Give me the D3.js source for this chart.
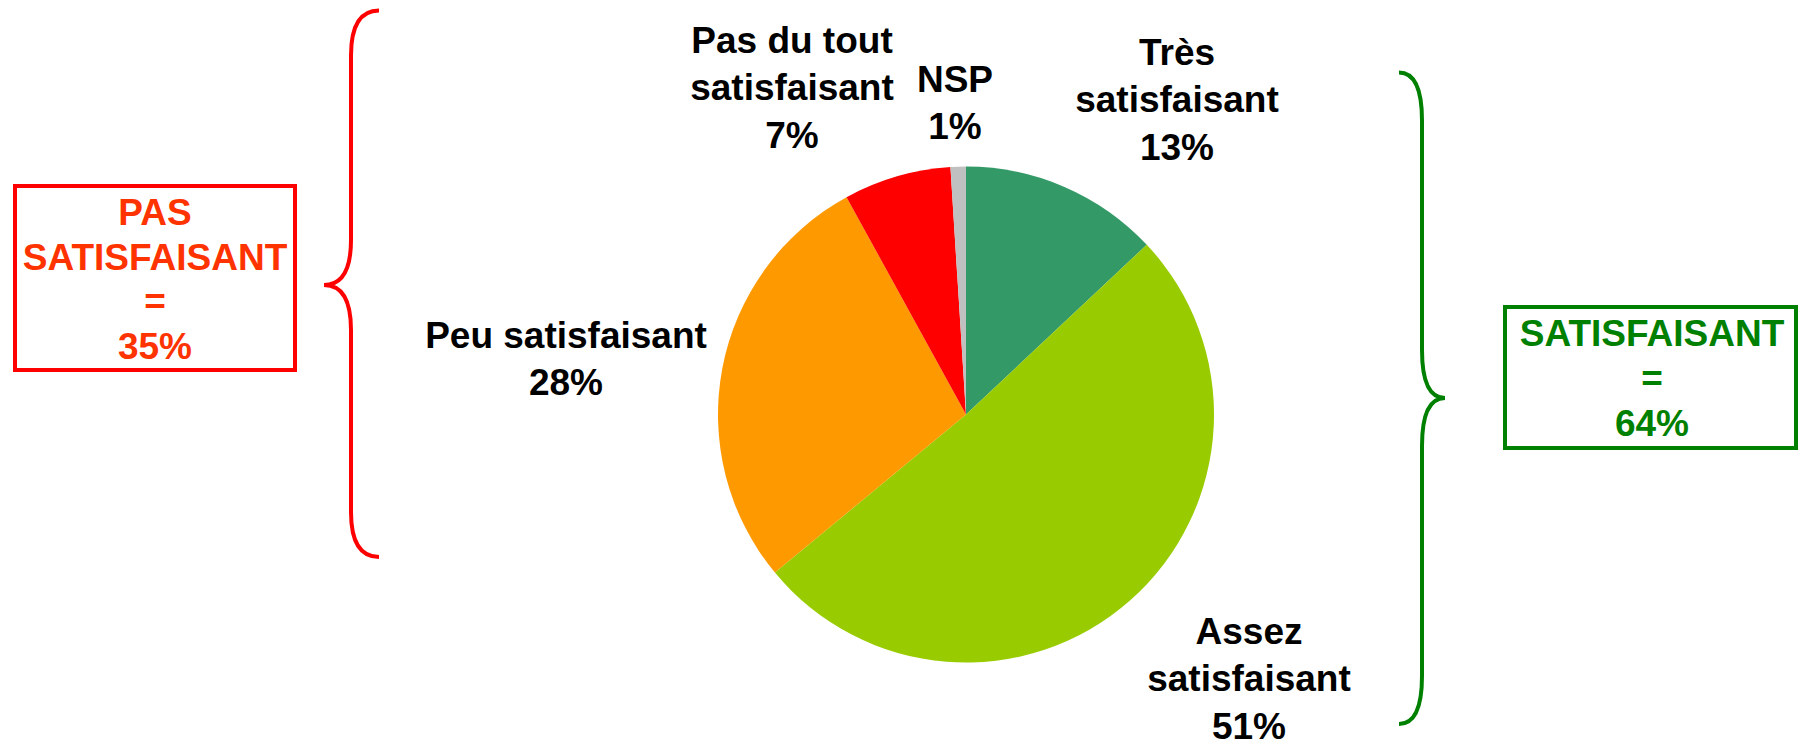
<!DOCTYPE html>
<html>
<head>
<meta charset="utf-8">
<script src="https://cdn.jsdelivr.net/npm/d3@7"></script>
<style>
  html, body { margin: 0; padding: 0; background: #fff; }
  svg { display: block; }
  text { font-family: "Liberation Sans", Arial, sans-serif; font-weight: bold; }
</style>
</head>
<body>
<svg id="chart" width="1800" height="747"></svg>
<script>
// --- data ---
const categories = ['Très satisfaisant', 'Assez satisfaisant', 'Peu satisfaisant', 'Pas du tout satisfaisant', 'NSP'];
const values = [13, 51, 28, 7, 1];
const labelLines = [
  ['Très', 'satisfaisant', '13%'],
  ['Assez', 'satisfaisant', '51%'],
  ['Peu satisfaisant', '28%'],
  ['Pas du tout', 'satisfaisant', '7%'],
  ['NSP', '1%']
];
const groupLabels = [
  ['PAS', 'SATISFAISANT', '=', '35%'],
  ['SATISFAISANT', '=', '64%']
];

// --- layout / style ---
const colors = ['#339966', '#99cc00', '#ff9900', '#ff0000', '#c0c0c0'];
const cx = 966, cy = 414.5, radius = 248;
// first baseline of each label block (x is the centre of the block)
const labelPos = [[1177, 65], [1249, 644], [566, 348], [792, 53], [955, 92]];
const lineH = 47.4;

const svg = d3.select('#chart');

const pie = d3.pie().sort(null).value(d => d)(values);
const arc = d3.arc().innerRadius(0).outerRadius(radius);

svg.append('g')
  .attr('transform', `translate(${cx},${cy})`)
  .selectAll('path')
  .data(pie)
  .join('path')
  .attr('d', arc)
  .attr('fill', (d, i) => colors[i]);

// Slice labels
labelLines.forEach((lines, i) => {
  const t = svg.append('text')
    .attr('x', labelPos[i][0])
    .attr('y', labelPos[i][1])
    .attr('text-anchor', 'middle')
    .attr('font-size', 37)
    .attr('fill', '#000');
  lines.forEach((l, j) => {
    t.append('tspan').attr('x', labelPos[i][0]).attr('dy', j === 0 ? 0 : lineH).text(l);
  });
});

// Curly brace: ends at endX, straight part at lineX, tip at tipX
const brace = (endX, lineX, tipX, y0, yTip, y1, c) => {
  const p = d3.path();
  p.moveTo(endX, y0);
  p.quadraticCurveTo(lineX, y0, lineX, y0 + c);
  p.lineTo(lineX, yTip - c);
  p.quadraticCurveTo(lineX, yTip, tipX, yTip);
  p.quadraticCurveTo(lineX, yTip, lineX, yTip + c);
  p.lineTo(lineX, y1 - c);
  p.quadraticCurveTo(lineX, y1, endX, y1);
  return p.toString();
};

svg.append('path')
  .attr('d', brace(379, 351, 324, 10.5, 285, 557, 45))
  .attr('fill', 'none').attr('stroke', '#ff0000').attr('stroke-width', 4);

svg.append('path')
  .attr('d', brace(1399, 1422, 1445, 72.5, 398, 724, 48))
  .attr('fill', 'none').attr('stroke', '#008000').attr('stroke-width', 4);

// Group boxes
const boxes = [
  { x: 15, y: 186, w: 280, h: 184, stroke: '#ff0000', fill: '#ff3300', tx: 155, ty: 225, lh: 44.5 },
  { x: 1505, y: 307, w: 291, h: 141, stroke: '#008000', fill: '#008000', tx: 1652, ty: 346, lh: 45 }
];
boxes.forEach((b, i) => {
  svg.append('rect')
    .attr('x', b.x).attr('y', b.y).attr('width', b.w).attr('height', b.h)
    .attr('fill', 'none').attr('stroke', b.stroke).attr('stroke-width', 4);
  const t = svg.append('text')
    .attr('x', b.tx).attr('y', b.ty)
    .attr('text-anchor', 'middle')
    .attr('font-size', 37)
    .attr('fill', b.fill);
  groupLabels[i].forEach((l, j) => {
    t.append('tspan').attr('x', b.tx).attr('dy', j === 0 ? 0 : b.lh).text(l);
  });
});
</script>
</body>
</html>
